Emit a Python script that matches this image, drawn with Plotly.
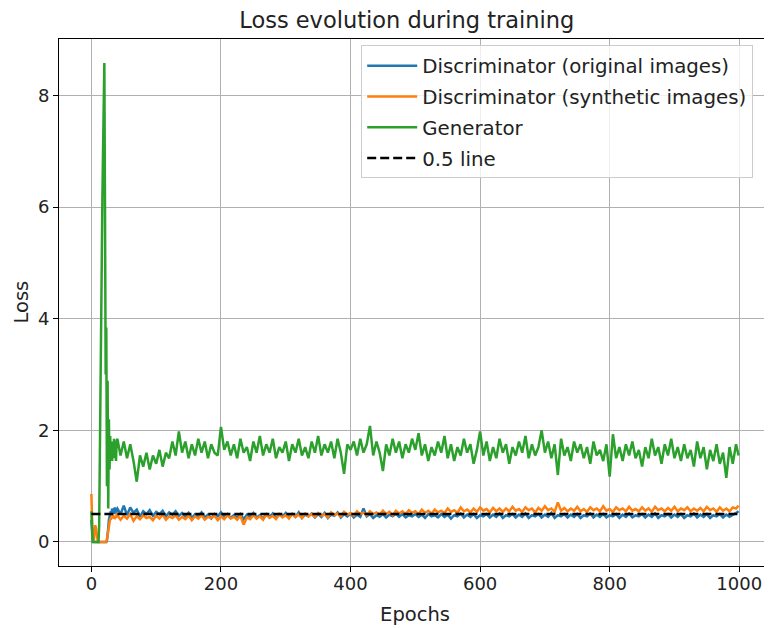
import plotly.graph_objects as go

# ---------------- data ----------------
epochs = list(range(0, 40)) + list(range(40, 1000, 5)) + [999]

gen_early = [0.55, 0.1, 0.0, 0.0, 0.0, 0.0, 0.0, 0.0, 0.0, 0.0, 0.0, 0.0,
             0.3, 1.8, 3.2, 4.6, 5.6, 6.2, 7.0, 7.8, 8.58, 6.0, 3.0, 3.84, 1.0, 2.89, 0.6, 2.2, 1.3, 1.9,
             1.5, 1.8, 1.45, 1.75, 1.6, 1.85, 1.5, 1.7, 1.45, 1.8]
gen_late = [
    1.85, 1.55, 1.8, 1.5, 1.75, 1.45, 1.08, 1.55, 1.35, 1.6, 1.3, 1.55, 1.4, 1.65, 1.35, 1.6, 1.5, 1.8, 1.55, 1.98,
    1.6, 1.8, 1.5, 1.75, 1.55, 1.85, 1.6, 1.8, 1.5, 1.75, 1.6, 1.55, 2.06, 1.65, 1.8, 1.55, 1.75, 1.5, 1.85, 1.6,
    1.7, 1.45, 1.8, 1.6, 1.9, 1.55, 1.75, 1.6, 1.85, 1.5, 1.7, 1.6, 1.8, 1.45, 1.75, 1.6, 1.85, 1.55, 1.7, 1.5,
    1.8, 1.6, 1.9, 1.55, 1.75, 1.6, 1.8, 1.5, 1.85, 1.6, 1.22, 1.75, 1.65, 1.8, 1.55, 1.85, 1.6, 1.75, 2.08, 1.55,
    1.8, 1.6, 1.27, 1.75, 1.55, 1.85, 1.6, 1.8, 1.5, 1.75, 1.6, 1.85, 1.65, 1.95, 1.55, 1.75, 1.45, 1.7, 1.55, 1.8,
    1.6, 1.9, 1.5, 1.75, 1.45, 1.7, 1.55, 1.85, 1.6, 1.75, 1.4, 1.65, 1.98, 1.55, 1.8, 1.45, 1.7, 1.5, 1.85, 1.6,
    1.75, 1.4, 1.7, 1.55, 1.8, 1.6, 1.9, 1.5, 1.75, 1.55, 1.7, 2.0, 1.6, 1.8, 1.5, 1.75, 1.2, 1.85, 1.55, 1.7,
    1.45, 1.8, 1.6, 1.75, 1.5, 1.7, 1.4, 1.8, 1.55, 1.65, 1.45, 1.75, 1.17, 1.93, 1.5, 1.7, 1.45, 1.75, 1.55, 1.8,
    1.5, 1.65, 1.35, 1.7, 1.5, 1.85, 1.55, 1.7, 1.4, 1.75, 1.55, 1.85, 1.5, 1.7, 1.45, 1.75, 1.5, 1.65, 1.35, 1.8,
    1.5, 1.7, 1.3, 1.65, 1.45, 1.75, 1.4, 1.6, 1.15, 1.7, 1.4, 1.75,
    1.55]

disc_real_early = [0.4, 0.05, 0.01, 0.0, 0.0, 0.01, 0.0, 0.0, 0.01, 0.0, 0.0, 0.0, 0.01, 0.0, 0.0, 0.0, 0.01, 0.0, 0.0, 0.0,
                   0.0, 0.01, 0.0, 0.0, 0.02, 0.1, 0.25, 0.4, 0.45, 0.5,
                   0.55, 0.48, 0.6, 0.52, 0.57, 0.5, 0.62, 0.55, 0.5, 0.58]
disc_real_late = [
    0.6, 0.5, 0.65, 0.48, 0.62, 0.52, 0.58, 0.45, 0.55, 0.5, 0.57, 0.47, 0.54, 0.5, 0.56, 0.46, 0.53, 0.49, 0.55, 0.47,
    0.52, 0.45, 0.52, 0.43, 0.5, 0.46, 0.53, 0.44, 0.49, 0.42, 0.5, 0.46, 0.53, 0.45, 0.5, 0.43, 0.48, 0.44, 0.5, 0.41,
    0.49, 0.45, 0.52, 0.44, 0.48, 0.42, 0.5, 0.45, 0.51, 0.43, 0.49, 0.46, 0.52, 0.44, 0.5, 0.45, 0.53, 0.43, 0.49, 0.46,
    0.51, 0.44, 0.5, 0.45, 0.52, 0.43, 0.49, 0.47, 0.53, 0.44, 0.5, 0.46, 0.51, 0.44, 0.49, 0.45, 0.6, 0.46, 0.5, 0.43,
    0.48, 0.45, 0.5, 0.44, 0.49, 0.46, 0.51, 0.45, 0.5, 0.44, 0.48, 0.46, 0.5, 0.45, 0.49, 0.43, 0.5, 0.46, 0.48, 0.44,
    0.5, 0.45, 0.49, 0.42, 0.48, 0.46, 0.51, 0.44, 0.49, 0.45, 0.5, 0.43, 0.48, 0.46, 0.5, 0.44, 0.49, 0.45, 0.51, 0.43,
    0.48, 0.46, 0.5, 0.44, 0.49, 0.45, 0.51, 0.43, 0.48, 0.46, 0.5, 0.44, 0.49, 0.45, 0.52, 0.43, 0.48, 0.46, 0.5, 0.44,
    0.49, 0.45, 0.5, 0.43, 0.48, 0.46, 0.51, 0.44, 0.49, 0.45, 0.5, 0.44, 0.48, 0.46, 0.5, 0.43, 0.49, 0.45, 0.51, 0.44,
    0.48, 0.46, 0.5, 0.44, 0.49, 0.45, 0.51, 0.43, 0.48, 0.46, 0.5, 0.44, 0.49, 0.45, 0.5, 0.43, 0.48, 0.46, 0.51, 0.44,
    0.49, 0.45, 0.5, 0.43, 0.48, 0.46, 0.5, 0.44, 0.49, 0.45, 0.48, 0.52,
    0.55]

disc_fake_early = [0.86, 0.3, 0.02, 0.0, 0.05, 0.2, 0.3, 0.25, 0.12, 0.04, 0.0,
                   0.0, 0.0, 0.01, 0.0, 0.0, 0.0, 0.01, 0.0, 0.0, 0.0, 0.0, 0.01, 0.0,
                   0.05, 0.12, 0.25, 0.33, 0.38, 0.42,
                   0.4, 0.45, 0.42, 0.48, 0.44, 0.47, 0.41, 0.46, 0.43, 0.49]
disc_fake_late = [
    0.48, 0.4, 0.47, 0.42, 0.5, 0.38, 0.46, 0.41, 0.48, 0.43, 0.45, 0.39, 0.47, 0.42, 0.49, 0.4, 0.46, 0.43, 0.48, 0.4,
    0.45, 0.41, 0.47, 0.39, 0.46, 0.42, 0.48, 0.4, 0.45, 0.43, 0.47, 0.39, 0.46, 0.41, 0.48, 0.42, 0.45, 0.4, 0.47, 0.31,
    0.44, 0.41, 0.48, 0.42, 0.46, 0.4, 0.49, 0.43, 0.47, 0.41, 0.5, 0.44, 0.48, 0.42, 0.5, 0.45, 0.49, 0.43, 0.51, 0.46,
    0.5, 0.45, 0.52, 0.47, 0.5, 0.44, 0.53, 0.48, 0.51, 0.46, 0.54, 0.49, 0.52, 0.47, 0.55, 0.5, 0.53, 0.48, 0.55, 0.5,
    0.53, 0.49, 0.56, 0.5, 0.54, 0.48, 0.56, 0.51, 0.55, 0.5, 0.57, 0.52, 0.55, 0.5, 0.58, 0.52, 0.56, 0.51, 0.58, 0.53,
    0.56, 0.52, 0.6, 0.54, 0.57, 0.52, 0.62, 0.55, 0.58, 0.53, 0.6, 0.54, 0.62, 0.56, 0.59, 0.53, 0.61, 0.55, 0.6, 0.54,
    0.6, 0.55, 0.63, 0.56, 0.59, 0.54, 0.62, 0.57, 0.6, 0.53, 0.61, 0.56, 0.64, 0.57, 0.6, 0.54, 0.71, 0.56, 0.61, 0.55,
    0.6, 0.56, 0.63, 0.55, 0.59, 0.54, 0.62, 0.57, 0.6, 0.55, 0.64, 0.56, 0.59, 0.54, 0.62, 0.57, 0.6, 0.55, 0.63, 0.56,
    0.59, 0.55, 0.62, 0.56, 0.6, 0.54, 0.63, 0.57, 0.6, 0.55, 0.61, 0.56, 0.63, 0.55, 0.6, 0.57, 0.62, 0.55, 0.6, 0.56,
    0.61, 0.55, 0.63, 0.57, 0.6, 0.54, 0.62, 0.56, 0.6, 0.55, 0.62, 0.6,
    0.65]

generator = gen_early + gen_late
disc_real = disc_real_early + disc_real_late
disc_fake = disc_fake_early + disc_fake_late

ref_x = [0, 999]
ref_y = [0.5, 0.5]

series_names = ["Discriminator (original images)", "Discriminator (synthetic images)", "Generator", "0.5 line"]
x_ticks = [0, 200, 400, 600, 800, 1000]
y_ticks = [0, 2, 4, 6, 8]

# ---------------- figure ----------------
FONT = "DejaVu Sans"
LW = 2.5
fig = go.Figure()
fig.add_trace(go.Scatter(x=epochs, y=disc_real, mode="lines", name=series_names[0],
                         line=dict(color="#1f77b4", width=LW), legendgroup="a"))
fig.add_trace(go.Scatter(x=epochs, y=disc_fake, mode="lines", name=series_names[1],
                         line=dict(color="#ff7f0e", width=LW), legendgroup="b"))
fig.add_trace(go.Scatter(x=epochs, y=generator, mode="lines", name=series_names[2],
                         line=dict(color="#2ca02c", width=LW), legendgroup="c"))
fig.add_trace(go.Scatter(x=ref_x, y=ref_y, mode="lines", name=series_names[3],
                         line=dict(color="black", width=LW, dash="9px,4px"), legendgroup="d"))

axis_common = dict(showline=True, linecolor="black", linewidth=1, mirror=True,
                   ticks="outside", ticklen=5, tickcolor="black", tickwidth=1,
                   showgrid=True, gridcolor="#b0b0b0", gridwidth=1, zeroline=False,
                   tickfont=dict(family=FONT, size=18, color="#222"))

fig.update_xaxes(range=[-50, 1049], tickvals=x_ticks, ticklabelstandoff=-4,
                 title=dict(text="Epochs", font=dict(family=FONT, size=19.5, color="#222"), standoff=14),
                 **axis_common)
fig.update_yaxes(range=[-0.43, 9.01], tickvals=y_ticks, **axis_common)

# y-axis title as a rotated annotation
fig.add_annotation(text="Loss", textangle=-90, xref="paper", yref="paper", x=0, y=0.5,
                   xanchor="center", yanchor="middle", xshift=-38, showarrow=False,
                   font=dict(family=FONT, size=19.5, color="#222"))

fig.update_layout(
    width=764, height=620,
    margin=dict(l=51, r=1, t=31, b=62, autoexpand=False),
    paper_bgcolor="white", plot_bgcolor="white",
    font=dict(family=FONT, color="#222"),
    title=dict(text="Loss evolution during training", x=0.522, xanchor="center",
               y=1 - 12 / 620, yref="container", yanchor="middle",
               font=dict(family=FONT, size=22.5, color="#222")),
    showlegend=True,
    legend=dict(x=0.975, y=0.988, xanchor="right", yanchor="top",
                bgcolor="rgba(255,255,255,0.8)", bordercolor="#cccccc", borderwidth=1,
                font=dict(family=FONT, size=19.8, color="#222"),
                tracegroupgap=2, itemwidth=50),
)

fig.write_html("out.html")
